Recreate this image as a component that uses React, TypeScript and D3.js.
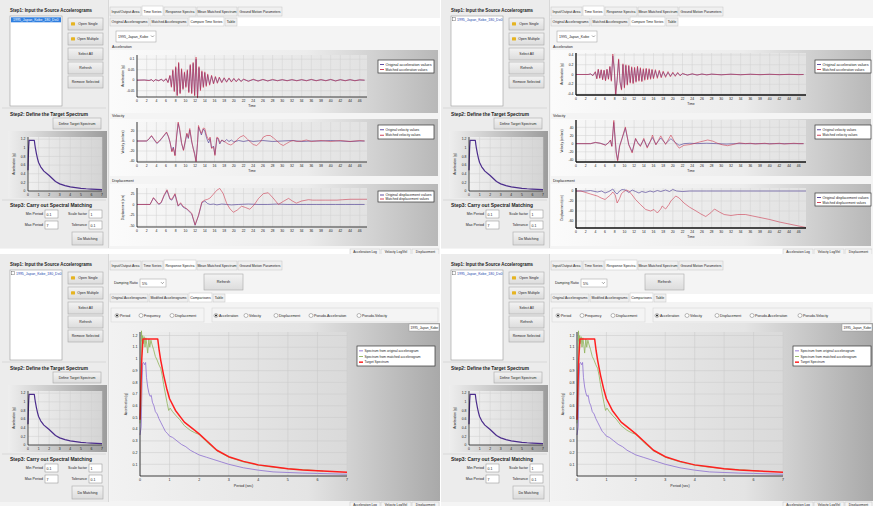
import React from 'react'
import * as d3 from 'd3'

type Pt = [number, number]

const FONT = 'Liberation Sans, Arial, sans-serif'

// tick labels
const timeTicks = [0, 2, 4, 6, 8, 10, 12, 14, 16, 18, 20, 22, 24, 26, 28, 30, 32, 34, 36, 38, 40, 42, 44, 46]
const periodTicks = [0, 1, 2, 3, 4, 5, 6, 7]
const saTicks = [0.1, 0.2, 0.3, 0.4, 0.5, 0.6, 0.7, 0.8, 0.9, 1, 1.1, 1.2]
const miniSaTicks = [0, 0.2, 0.4, 0.6, 0.8, 1, 1.2]

// ui labels
const mainTabs = ['Input/Output Area', 'Time Series', 'Response Spectra', 'Mean Matched Spectrum', 'Ground Motion Parameters']
const mainTabW = [31, 21, 32, 40, 44]
const tsSubTabs = ['Original Accelerograms', 'Matched Accelerograms', 'Compare Time Series', 'Table']
const tsSubTabW = [39, 38, 35, 12]
const rsSubTabs = ['Original Accelerograms', 'Modified Accelerograms', 'Comparisons', 'Table']
const rsSubTabW = [38, 39, 23, 12]
const sideButtons = ['Open Single', 'Open Multiple', 'Select All', 'Refresh', 'Remove Selected']
const xAxisOpts = ['Period', 'Frequency', 'Displacement']
const xAxisOptX = [117, 141, 172]
const yAxisOpts = ['Acceleration', 'Velocity', 'Displacement', 'Pseudo-Acceleration', 'Pseudo-Velocity']
const yAxisOptX = [216, 246, 276, 311, 359]
const logTabs = ['Acceleration Log', 'Velocity Log/Vel', 'Displacement']
const spectraLegend = ['Spectrum from original accelerogram', 'Spectrum from matched accelerogram', 'Target Spectrum']
const recordName = '1995_Japan_Kobe_180_Dx0'

// target spectrum (g) vs period (s)
const targetPeriod = [0, 0.03, 0.06, 0.1, 0.6, 0.65, 0.7, 0.8, 0.9, 1.0, 1.2, 1.5, 1.8, 2.0, 2.3, 2.6, 3.0, 3.5, 4.0, 4.5, 5.0, 5.5, 6.0, 6.5, 7.0]
const targetSa = [0.48, 0.75, 1.0, 1.17, 1.17, 1.07, 0.99, 0.86, 0.75, 0.66, 0.56, 0.46, 0.4, 0.36, 0.29, 0.22, 0.165, 0.125, 0.095, 0.078, 0.062, 0.052, 0.045, 0.038, 0.032]

// spectrum of the original record
const origPeriod = [0, 0.04, 0.07, 0.09, 0.12, 0.16, 0.19, 0.22, 0.26, 0.3, 0.34, 0.38, 0.42, 0.47, 0.52, 0.58, 0.64, 0.7, 0.78, 0.86, 0.94, 1.0, 1.1, 1.25, 1.4, 1.55, 1.7, 1.85, 2.0, 2.25, 2.5, 2.75, 3.0, 3.5, 4.0, 4.5, 5.0, 5.5, 6.0, 7.0]
const origSa = [0.35, 0.42, 0.8, 0.96, 0.97, 0.95, 0.97, 0.84, 0.76, 0.71, 0.68, 0.69, 0.63, 0.6, 0.55, 0.53, 0.49, 0.46, 0.42, 0.38, 0.36, 0.34, 0.33, 0.3, 0.27, 0.25, 0.22, 0.2, 0.18, 0.16, 0.14, 0.12, 0.1, 0.07, 0.05, 0.035, 0.03, 0.025, 0.022, 0.015]

// spectrum of the matched record
const matchPeriod = [0, 0.03, 0.05, 0.07, 0.09, 0.11, 0.14, 0.17, 0.2, 0.23, 0.26, 0.3, 0.33, 0.37, 0.41, 0.46, 0.52, 0.58, 0.64, 0.7, 0.75, 0.8, 0.86, 0.92, 0.97, 1.02, 1.1, 1.2, 1.35, 1.5, 1.7, 1.85, 2.0, 2.3, 2.6, 3.0, 3.5, 4.0, 4.5, 5.0, 5.5, 6.2]
const matchSa = [0.45, 0.6, 1.24, 1.15, 1.2, 1.13, 1.19, 1.1, 1.18, 1.12, 1.05, 1.17, 1.1, 1.16, 1.12, 1.08, 1.02, 0.99, 0.95, 0.92, 0.86, 0.78, 0.7, 0.62, 0.56, 0.58, 0.55, 0.52, 0.48, 0.43, 0.39, 0.37, 0.355, 0.28, 0.215, 0.16, 0.12, 0.092, 0.075, 0.062, 0.055, 0.042]

// ---- top-left record: [time (s), value]
const tlAccOrig: Pt[] = [[0, 0], [1.5, 0.001], [2.5, -0.001], [3, 0.002], [3.4, -0.005], [3.8, 0.002], [4.5, -0.002], [5, 0.004], [5.5, -0.004], [6, 0.006], [6.4, -0.01], [6.8, 0.02], [7.1, -0.03], [7.4, 0.045], [7.7, -0.05], [8, 0.06], [8.3, -0.07], [8.6, 0.08], [8.9, -0.06], [9.2, 0.05], [9.5, -0.04], [9.8, 0.035], [10.1, -0.03], [10.4, 0.045], [10.7, -0.055], [11, 0.07], [11.3, -0.06], [11.6, 0.08], [11.9, -0.07], [12.2, 0.1], [12.5, -0.08], [12.8, 0.06], [13.1, -0.045], [13.4, 0.04], [13.7, -0.03], [14, 0.035], [14.3, -0.025], [14.6, 0.025], [15, -0.02], [15.4, 0.02], [15.8, -0.015], [16.2, 0.015], [16.6, -0.012], [17, 0.012], [17.5, -0.01], [18, 0.01], [18.5, -0.008], [19, 0.009], [19.5, -0.007], [20, 0.007], [20.5, -0.006], [21, 0.006], [21.5, -0.005], [22, 0.004], [23, -0.004], [24, 0.003], [25, -0.003], [26, 0.003], [27, -0.003], [28, 0.002], [29, -0.002], [30, 0.002], [31, -0.002], [32, 0.002], [33, -0.002], [34, 0.002], [35, -0.002], [36, 0.003], [37, -0.002], [38, 0.002], [39, -0.002], [40, 0.003], [41, -0.003], [42, 0.002], [43, -0.002], [44, 0.002], [45, -0.002], [46, 0.001], [47, 0]]
const tlAccMatch: Pt[] = [[0, 0], [1.5, 0.001], [2.5, -0.002], [3, 0.003], [3.4, -0.006], [3.8, 0.003], [4.5, -0.003], [5, 0.005], [5.5, -0.005], [6, 0.008], [6.4, -0.012], [6.8, 0.024], [7.1, -0.034], [7.4, 0.05], [7.7, -0.055], [8, 0.065], [8.3, -0.075], [8.6, 0.085], [8.9, -0.065], [9.2, 0.055], [9.5, -0.045], [9.8, 0.04], [10.1, -0.035], [10.4, 0.05], [10.7, -0.06], [11, 0.075], [11.3, -0.065], [11.6, 0.085], [11.9, -0.075], [12.2, 0.11], [12.5, -0.085], [12.8, 0.065], [13.1, -0.05], [13.4, 0.045], [13.7, -0.035], [14, 0.04], [14.3, -0.03], [14.6, 0.03], [15, -0.024], [15.4, 0.024], [15.8, -0.018], [16.2, 0.018], [16.6, -0.015], [17, 0.015], [17.5, -0.012], [18, 0.012], [18.5, -0.01], [19, 0.011], [19.5, -0.009], [20, 0.009], [20.5, -0.008], [21, 0.008], [21.5, -0.007], [22, 0.006], [23, -0.006], [24, 0.005], [25, -0.005], [26, 0.004], [27, -0.004], [28, 0.004], [29, -0.003], [30, 0.003], [31, -0.003], [32, 0.003], [33, -0.003], [34, 0.003], [35, -0.003], [36, 0.004], [37, -0.003], [38, 0.003], [39, -0.003], [40, 0.004], [41, -0.004], [42, 0.003], [43, -0.003], [44, 0.003], [45, -0.003], [46, 0.002], [47, 0]]
const tlVelOrig: Pt[] = [[0, 0], [2, 0], [2.5, 4], [3, 10], [3.5, 3], [4.1, -5], [4.6, -1], [5.2, 6], [6.1, 17], [6.5, 8], [6.8, -2], [7.2, -20], [7.5, -12], [7.85, -28], [8.2, 10], [8.5, 35], [8.8, 22], [9.2, -5], [9.6, -18], [10, 0], [10.3, 14], [10.6, 5], [10.9, 22], [11.3, -2], [11.6, -14], [11.9, -25], [12.2, -40], [12.5, -5], [12.7, 28], [13, 20], [13.3, 12], [13.7, 24], [14, 20], [14.4, 5], [14.8, -4], [15.1, 5], [15.4, -14], [15.8, -10], [16.1, -27], [16.5, 6], [16.8, 3], [17.1, -6], [17.5, 2], [18, -2], [18.5, 3], [19, -1], [19.5, 2], [20, -2], [21, 1], [22, -1], [23, 1], [24, -1], [25, 0], [26, 1], [28, -1], [30, 0], [32, 1], [34, -1], [36, 0], [38, 0], [40, 1], [42, 0], [44, -1], [46, 0], [47, 0]]
const tlVelMatch: Pt[] = [[0, 0], [2, 0], [2.5, 5], [3, 11], [3.5, 4], [4.1, -4], [4.6, 0], [5.2, 7], [6.1, 18], [6.5, 9], [6.8, -1], [7.2, -22], [7.5, -14], [7.85, -30], [8.2, 12], [8.5, 38], [8.8, 25], [9.2, -3], [9.6, -19], [10, 2], [10.3, 16], [10.6, 7], [10.9, 25], [11.3, 0], [11.6, -15], [11.9, -27], [12.2, -42], [12.5, -3], [12.7, 31], [13, 22], [13.3, 15], [13.7, 26], [14, 25], [14.4, 10], [14.8, 2], [15.1, 8], [15.4, -15], [15.8, -12], [16.1, -29], [16.5, 8], [16.8, 6], [17.1, -3], [17.6, 2], [18.2, -2], [18.8, -6], [19.4, -8], [20, -4], [20.6, 2], [21.3, 8], [22, 11], [22.7, 5], [23.4, -2], [24, -7], [24.7, -9], [25.4, -3], [26.1, 8], [26.8, 11], [27.5, 11], [28.2, 6], [28.9, 0], [29.6, -6], [30.2, -9], [30.9, -5], [31.6, -1], [32.3, 1], [33, -1], [34, 0], [35, 2], [36, -1], [37, 0], [38, 1], [39, 0], [40, -1], [41, 0], [42, 1], [43, 0], [44, -1], [45, 0], [46, 1], [47, 0]]
const tlDispOrig: Pt[] = [[0, 0], [2.7, 0], [3.4, 15], [4.5, 0], [5, 4], [5.6, 20], [6.2, 32], [6.8, 12], [7.2, 10], [7.85, 23], [8.5, -4], [9, 2], [9.5, -6], [10.3, -11], [11.3, -22], [12, -48], [12.7, -26], [13.4, 4], [14, 8], [14.6, 2], [15.1, 0], [15.8, 1], [16.5, -1], [17.5, 1], [18.5, 0], [19.5, -1], [21, 0], [23, 1], [25, 0], [27, 0], [29, 1], [31, 0], [33, 0], [35, 0], [37, 0], [39, 0], [41, 0], [43, 0], [45, 0], [47, 0]]
const tlDispMatch: Pt[] = [[0, 0], [2.7, 0], [3.4, 16], [4.5, 1], [5, 5], [5.6, 22], [6.2, 34], [6.8, 14], [7.2, 12], [7.85, 25], [8.5, -3], [9, 4], [9.5, -4], [10.3, -10], [11.3, -20], [12, -47], [12.7, -25], [13.4, 6], [14, 10], [14.6, 12], [15.1, 15], [15.8, 24], [16.5, 33], [17.1, 37], [17.8, 25], [18.5, 3], [19.2, -10], [19.9, -18], [20.7, -13], [21.6, -4], [22.4, -7], [23.3, -11], [24.2, -1], [25.1, 14], [26.1, 25], [27.1, 27], [28.1, 15], [29.2, 0], [30.2, 7], [31.3, 14], [32.1, 8], [32.9, 3], [34, 8], [35.4, 11], [36.3, 10], [37.1, 10], [39, 10], [41.3, 10], [42.5, 11], [44, 12], [46, 12], [47.5, 12]]

// ---- top-right record
const trAccOrig: Pt[] = [[0, 0], [2.5, 0], [3, 0.01], [3.5, -0.02], [4, 0.05], [4.3, -0.08], [4.6, 0.1], [4.9, -0.07], [5.2, 0.09], [5.5, -0.1], [5.8, 0.08], [6.1, -0.12], [6.4, 0.1], [6.7, -0.09], [7, 0.15], [7.3, -0.12], [7.6, 0.38], [7.9, 0.1], [8.2, -0.4], [8.5, -0.1], [8.8, 0.3], [9.1, -0.15], [9.4, -0.3], [9.7, 0.2], [10, -0.26], [10.3, 0.18], [10.6, -0.2], [10.9, 0.17], [11.2, -0.16], [11.5, 0.14], [11.8, -0.17], [12.1, 0.13], [12.4, -0.14], [12.7, 0.15], [13, -0.12], [13.3, 0.12], [13.6, -0.13], [13.9, 0.1], [14.2, -0.1], [14.5, 0.11], [14.8, -0.09], [15.1, 0.1], [15.4, -0.08], [15.7, 0.09], [16, -0.07], [16.4, 0.08], [16.8, -0.06], [17.2, 0.07], [17.6, -0.05], [18, 0.05], [18.5, -0.04], [19, 0.04], [19.5, -0.03], [20, 0.03], [20.5, -0.025], [21, 0.03], [21.5, -0.02], [22, 0.015], [23, -0.01], [24, 0.01], [25, -0.01], [26, 0.008], [27, -0.006], [28, 0.006], [30, -0.005], [32, 0.005], [34, -0.004], [36, 0.004], [38, -0.003], [40, 0.003], [42, -0.003], [44, 0.002], [46, -0.002], [47, 0]]
const trAccMatch: Pt[] = [[0, 0], [2.5, 0], [3, 0.012], [3.5, -0.025], [4, 0.06], [4.3, -0.09], [4.6, 0.11], [4.9, -0.08], [5.2, 0.1], [5.5, -0.11], [5.8, 0.09], [6.1, -0.13], [6.4, 0.11], [6.7, -0.1], [7, 0.17], [7.3, -0.14], [7.6, 0.42], [7.9, 0.12], [8.2, -0.42], [8.5, -0.12], [8.8, 0.32], [9.1, -0.17], [9.4, -0.32], [9.7, 0.22], [10, -0.28], [10.3, 0.2], [10.6, -0.22], [10.9, 0.19], [11.2, -0.18], [11.5, 0.16], [11.8, -0.19], [12.1, 0.15], [12.4, -0.16], [12.7, 0.17], [13, -0.14], [13.3, 0.14], [13.6, -0.15], [13.9, 0.12], [14.2, -0.12], [14.5, 0.13], [14.8, -0.11], [15.1, 0.12], [15.4, -0.1], [15.7, 0.11], [16, -0.09], [16.4, 0.1], [16.8, -0.08], [17.2, 0.09], [17.6, -0.07], [18, 0.07], [18.5, -0.06], [19, 0.06], [19.5, -0.05], [20, 0.05], [20.5, -0.04], [21, 0.045], [21.5, -0.03], [22, 0.025], [23, -0.015], [24, 0.015], [25, -0.012], [26, 0.01], [27, -0.008], [28, 0.008], [30, -0.007], [32, 0.006], [34, -0.006], [36, 0.005], [38, -0.004], [40, 0.004], [42, -0.004], [44, 0.003], [46, -0.003], [47, 0]]
const trVelOrig: Pt[] = [[0, 0], [3, 0], [4, 3], [5, 1], [6.1, -3], [6.7, 2], [7.1, 8], [7.4, -6], [7.8, 52], [8.3, -20], [8.6, -40], [9, -5], [9.5, 12], [10.2, 38], [10.9, -2], [11.6, -20], [12.3, 12], [12.8, 2], [13.3, -5], [14, 10], [14.7, -8], [15.3, 5], [15.8, 15], [16.5, -2], [17.5, 14], [18.5, 0], [19.6, 12], [20.6, 2], [21.3, -4], [22.3, 0], [23.5, 1], [25, 0], [27, 1], [29, 0], [31, -1], [33, 0], [35, 0], [37, 0], [40, 0], [43, 0], [47, 0]]
const trVelMatch: Pt[] = [[0, 0], [3, 0], [4, 3], [5, 1], [6.1, -4], [6.7, 2], [7.1, 9], [7.4, -7], [7.8, 57], [8.3, -23], [8.6, -43], [9, -8], [9.5, 13], [10.2, 41], [10.9, -3], [11.6, -23], [12.3, 13], [12.8, 0], [13.3, -7], [14, 13], [14.7, -11], [15.3, 4], [15.8, 21], [16.5, -3], [17, 8], [17.5, 19], [18.5, -2], [19.6, 21], [20.6, 0], [21.3, -11], [22.3, -4], [23.7, -2], [25.5, 4], [27.2, 9], [28.3, 6], [29.2, 1], [30.3, -3], [31.3, -5], [32.5, -2], [33.7, 2], [35, 0], [36, 1], [37, -1], [38, 0], [39, 1], [40, -1], [41, 0], [42, 1], [43, -1], [44, 0], [45, 1], [46, 0], [47, 0]]
const trDispOrig: Pt[] = [[0, 0], [2, 0], [3, 1], [4.4, -2], [5.3, 0], [6, -4], [6.8, -1], [7.6, 4], [8.1, -3], [8.5, -6], [9, 0], [9.5, 3], [10.2, 2], [10.9, -3], [11.6, 2], [12.3, -1], [13, -4], [13.6, -1], [14.4, -3], [15.3, 0], [16, -2], [16.8, 1], [17.5, -1], [18.5, 2], [19.3, -1], [20, 3], [20.8, 0], [22, -1], [23.5, 0], [25, 0], [27, 0], [30, 0], [33, 0], [36, 0], [40, 0], [44, 0], [47.5, 0]]
const trDispMatch: Pt[] = [[0, 0], [1, 0], [2, -3], [3, -6], [4.4, -10], [5.2, -14], [6, -17], [6.6, -12], [7.1, -8], [7.6, -2], [8.1, -8], [8.5, -24], [9, -15], [9.4, -5], [9.9, -1], [10.4, 2], [10.9, 0], [11.6, -8], [12.3, -17], [13.3, -27], [14.4, -37], [15.4, -40], [16.1, -37], [16.8, -44], [17.5, -36], [17.8, -30], [18.5, -36], [19.2, -27], [19.6, -20], [20.6, -10], [21.3, -14], [22.3, -24], [23.4, -32], [24.8, -40], [25.8, -46], [26.8, -51], [27.9, -43], [28.6, -36], [29.6, -42], [30.6, -47], [32, -49], [33.4, -47], [35, -47], [36.5, -50], [38, -53], [40, -57], [42, -62], [44, -66], [46, -70], [47.5, -73]]

const ORIG = '#4e3d96'
const MATCH = '#cc3048'

const zip = (a: number[], b: number[]): Pt[] => a.map((v, i) => [v, b[i]])

// squeeze text only when it would overflow its slot
function T ({ x, y, s = 4, children, anchor = 'start', bold = false, fill = '#222', fit, rotate }: any) {
  const est = String(children).length * s * (bold ? 0.56 : 0.5)
  const squeeze = fit && est > fit
  return (
    <text
      x={x} y={y} fontSize={s} fontFamily={FONT} textAnchor={anchor}
      fontWeight={bold ? 'bold' : 'normal'} fill={fill}
      textLength={squeeze ? fit : undefined} lengthAdjust={squeeze ? 'spacingAndGlyphs' : undefined}
      transform={rotate ? `rotate(${rotate} ${x} ${y})` : undefined}
    >{children}</text>
  )
}

function Btn ({ x, y, w, h, label, icon = false, s = 3.8 }: any) {
  return (
    <g>
      <rect x={x} y={y} width={w} height={h} fill='url(#btnBg)' stroke='#a8a8a8' strokeWidth={0.6} />
      {icon && <rect x={x + 3} y={y + h / 2 - 1.8} width={4} height={3.4} rx={0.6} fill='#e6b422' />}
      <T x={x + w / 2 + (icon ? 2.5 : 0)} y={y + h / 2 + 1.4} s={s} anchor='middle' fit={w - (icon ? 10 : 4)}>{label}</T>
    </g>
  )
}

function Tabs ({ x, y, h, labels, widths, sel, endX }: any) {
  let cx = x
  return (
    <g>
      {endX && <rect x={x} y={y} width={endX - x} height={h} fill='#fff' />}
      {labels.map((label: string, i: number) => {
        const tx = cx
        cx += widths[i] + 1
        return (
          <g key={i}>
            <rect x={tx} y={y - (i === sel ? 1 : 0)} width={widths[i]} height={h + (i === sel ? 1 : 0)}
              fill={i === sel ? '#fff' : '#f0f0f0'} stroke='#c4c4c4' strokeWidth={0.5} />
            <T x={tx + widths[i] / 2} y={y + h / 2 + 1.3} s={3.5} anchor='middle' fit={widths[i] - 3}>{label}</T>
          </g>
        )
      })}
    </g>
  )
}

function Plot ({ px, py, pw, ph, xd, yd, xt, yt, lines, fs = 3.6, xTitle, yTitle, bg = 'url(#plotBg)', axisW = 0.8, grid = '#d0d0d0' }: any) {
  const xs = d3.scaleLinear().domain(xd).range([px, px + pw])
  const ys = d3.scaleLinear().domain(yd).range([py + ph, py])
  const line = d3.line<Pt>().x(d => xs(d[0])).y(d => ys(d[1]))
  return (
    <g>
      <rect x={px} y={py} width={pw} height={ph} fill={bg} />
      {xt.map((t: number) => (
        <line key={'gx' + t} x1={xs(t)} x2={xs(t)} y1={py} y2={py + ph} stroke={grid} strokeWidth={0.5} />
      ))}
      {yt.map((t: number) => (
        <line key={'gy' + t} x1={px} x2={px + pw} y1={ys(t)} y2={ys(t)} stroke={grid} strokeWidth={0.5} />
      ))}
      {lines.map((l: any, i: number) => (
        <path key={i} d={line(l.data) || ''} fill='none' stroke={l.color} strokeWidth={l.w}
          strokeOpacity={l.op ?? 1} strokeLinejoin='round' />
      ))}
      <line x1={px} x2={px} y1={py} y2={py + ph} stroke='#111' strokeWidth={axisW} />
      <line x1={px} x2={px + pw} y1={py + ph} y2={py + ph} stroke='#111' strokeWidth={axisW} />
      {xt.map((t: number) => (
        <T key={'xl' + t} x={xs(t)} y={py + ph + fs + 1.8} s={fs} anchor='middle'>{String(t)}</T>
      ))}
      {yt.map((t: number) => (
        <T key={'yl' + t} x={px - 2.5} y={ys(t) + fs * 0.35} s={fs} anchor='end'>{String(t)}</T>
      ))}
      {xTitle && <T x={px + pw / 2} y={py + ph + fs * 2 + 3.5} s={fs} anchor='middle'>{xTitle}</T>}
      {yTitle && <T x={px - 13} y={py + ph / 2} s={fs * 0.9} anchor='middle' rotate={-90}>{yTitle}</T>}
    </g>
  )
}

function Legend ({ x, y, w, h, items, s = 3.3 }: any) {
  const step = (h - 3) / items.length
  return (
    <g>
      <rect x={x} y={y} width={w} height={h} fill='#fff' stroke='#333' strokeWidth={0.7} />
      {items.map((it: any, i: number) => (
        <g key={i}>
          <line x1={x + 2} x2={x + 6} y1={y + 2 + step * (i + 0.5)} y2={y + 2 + step * (i + 0.5)} stroke={it.color} strokeWidth={it.w || 0.9} />
          <T x={x + 7.5} y={y + 2 + step * (i + 0.5) + 1.2} s={s} fit={w - 10}>{it.label}</T>
        </g>
      ))}
    </g>
  )
}

function Sidebar ({ sel }: any) {
  const btnY = [18, 33, 48, 62, 76]
  const target = zip(targetPeriod, targetSa)
  return (
    <g>
      <rect x={0} y={0} width={108} height={248} fill='#ececec' />
      <T x={10} y={12} s={4.6} bold fit={82}>Step1: Input the Source Accelerograms</T>
      <rect x={10} y={16} width={52} height={90} fill='#fff' stroke='#9a9a9a' strokeWidth={0.6} />
      {sel
        ? (<g>
            <rect x={11} y={17.3} width={50} height={5} fill='#2f7fe0' />
            <T x={13} y={21} s={3.5} fill='#fff' fit={46}>{recordName}</T>
          </g>)
        : (<g>
            <rect x={11.5} y={17.6} width={3.2} height={3.2} fill='#fff' stroke='#555' strokeWidth={0.4} />
            <T x={16} y={21} s={3.5} fill='#1b3fae' fit={44}>{recordName}</T>
          </g>)}
      {sideButtons.map((b, i) => (
        <Btn key={b} x={68} y={btnY[i]} w={35} h={12} label={b} icon={i < 2} s={3.5} />
      ))}
      <line x1={2} x2={106} y1={108} y2={108} stroke='#d4d4d4' strokeWidth={0.8} />
      <T x={10} y={116} s={4.6} bold fit={78}>Step2: Define the Target Spectrum</T>
      <Btn x={53} y={118} w={48} h={11} label='Define Target Spectrum' s={3.5} />
      <rect x={8} y={131} width={99} height={67} fill='url(#miniBg)' />
      <Plot px={28} py={137} pw={74} ph={54} xd={[0, 7]} yd={[0, 1.25]} xt={periodTicks} yt={miniSaTicks}
        lines={[{ data: target, color: '#4b2c8c', w: 1.2 }]} fs={3.4} yTitle='Acceleration (g)'
        bg='url(#miniPlot)' grid='#cfcfcf' axisW={0.7} />
      <line x1={2} x2={106} y1={200} y2={200} stroke='#d4d4d4' strokeWidth={0.8} />
      <T x={10} y={207} s={4.6} bold fit={82}>Step3: Carry out Spectral Matching</T>
      <T x={43} y={215} s={3.6} anchor='end'>Min Period</T>
      <rect x={45} y={210} width={13} height={8} fill='#fff' stroke='#8a8a8a' strokeWidth={0.5} />
      <T x={46.5} y={215.5} s={3.5}>0.1</T>
      <T x={87} y={215} s={3.6} anchor='end'>Scale factor</T>
      <rect x={89} y={210} width={13} height={8} fill='#fff' stroke='#8a8a8a' strokeWidth={0.5} />
      <T x={90.5} y={215.5} s={3.5}>1</T>
      <T x={43} y={226} s={3.6} anchor='end'>Max Period</T>
      <rect x={45} y={221} width={13} height={8} fill='#fff' stroke='#8a8a8a' strokeWidth={0.5} />
      <T x={46.5} y={226.5} s={3.5}>7</T>
      <T x={87} y={226} s={3.6} anchor='end'>Tolerance</T>
      <rect x={89} y={221} width={13} height={8} fill='#fff' stroke='#8a8a8a' strokeWidth={0.5} />
      <T x={90.5} y={226.5} s={3.5}>0.1</T>
      <Btn x={72} y={232} w={31} h={13} label='Do Matching' s={3.6} />
    </g>
  )
}

function LogTabs ({ w, y }: any) {
  const tw = [30, 30, 27]
  let x = w - 90
  return (
    <g>
      {logTabs.map((l, i) => {
        const tx = x
        x += tw[i] + 1
        return (
          <g key={l}>
            <rect x={tx} y={y} width={tw[i]} height={6} fill='#f4f4f4' stroke='#bbb' strokeWidth={0.4} />
            <T x={tx + tw[i] / 2} y={y + 4.3} s={3.2} anchor='middle' fit={tw[i] - 4}>{l}</T>
          </g>
        )
      })}
    </g>
  )
}

function TimeSeriesPanel ({ ox, w, sel, charts, plotX, legendX }: any) {
  return (
    <g transform={`translate(${ox},0)`}>
      <rect x={0} y={0} width={w} height={249} fill='#f4f4f4' />
      <Sidebar sel={sel} />
      <line x1={108.5} x2={108.5} y1={0} y2={248} stroke='#d0d0d0' strokeWidth={0.8} />
      <Tabs x={110} y={7} h={9} labels={mainTabs} widths={mainTabW} sel={1} />
      <Tabs x={110} y={18} h={8} labels={tsSubTabs} widths={tsSubTabW} sel={2} endX={w} />
      <rect x={116} y={31} width={40} height={11} fill='#fff' stroke='#9a9a9a' strokeWidth={0.5} />
      <T x={118} y={38} s={3.6} fit={30}>1995_Japan_Kobe</T>
      <path d='M151,35.5 l1.5,1.5 l1.5,-1.5' fill='none' stroke='#444' strokeWidth={0.5} />
      {charts.map((c: any) => (
        <g key={c.label}>
          <T x={112} y={c.top - 2} s={3.6}>{c.label}</T>
          <rect x={110} y={c.top} width={w - 112} height={c.h} fill='url(#boxBg)' />
          <Plot px={plotX} py={c.py} pw={230} ph={c.ph} xd={[0, 47.5]} yd={c.yd} xt={timeTicks} yt={c.yt}
            fs={3.4} xTitle={c.showTitle ? 'Time' : undefined} yTitle={c.yTitle} axisW={c.axisW}
            lines={[{ data: c.orig, color: ORIG, w: 0.7, op: 0.9 }, { data: c.match, color: MATCH, w: 0.7, op: 0.8 }]} />
          <Legend x={legendX} y={c.ly} w={56} h={c.lh} items={[
            { label: c.leg[0], color: ORIG }, { label: c.leg[1], color: MATCH }]} />
        </g>
      ))}
      <LogTabs w={w} y={249} />
    </g>
  )
}

function SpectraPanel ({ ox, w, plotX, plotW, legendX }: any) {
  const orig = zip(origPeriod, origSa)
  const match = zip(matchPeriod, matchSa)
  const target = zip(targetPeriod, targetSa)
  return (
    <g transform={`translate(${ox},254)`}>
      <rect x={0} y={0} width={w} height={252} fill='#f4f4f4' />
      <Sidebar sel={false} />
      <line x1={108.5} x2={108.5} y1={0} y2={248} stroke='#d0d0d0' strokeWidth={0.8} />
      <Tabs x={110} y={7} h={9} labels={mainTabs} widths={mainTabW} sel={2} />
      <T x={114} y={30} s={3.6}>Damping Ratio</T>
      <rect x={140} y={25} width={26} height={8} fill='#fff' stroke='#9a9a9a' strokeWidth={0.5} />
      <T x={142} y={31} s={3.6}>5%</T>
      <path d='M161,28.2 l1.4,1.4 l1.4,-1.4' fill='none' stroke='#444' strokeWidth={0.5} />
      <Btn x={204} y={20} w={39} h={16} label='Refresh' s={3.8} />
      <Tabs x={110} y={40} h={8} labels={rsSubTabs} widths={rsSubTabW} sel={2} endX={w} />
      <rect x={111} y={54} width={93} height={14} fill='#f4f4f4' stroke='#d0d0d0' strokeWidth={0.5} />
      <rect x={212} y={54} width={w - 214} height={14} fill='#f4f4f4' stroke='#d0d0d0' strokeWidth={0.5} />
      {xAxisOpts.map((o, i) => (
        <g key={'xo' + o}>
          <circle cx={xAxisOptX[i]} cy={61.5} r={2} fill='#fff' stroke='#555' strokeWidth={0.4} />
          {i === 0 && <circle cx={xAxisOptX[i]} cy={61.5} r={1} fill='#222' />}
          <T x={xAxisOptX[i] + 3} y={63} s={3.5}>{o}</T>
        </g>
      ))}
      {yAxisOpts.map((o, i) => (
        <g key={'yo' + o}>
          <circle cx={yAxisOptX[i]} cy={61.5} r={2} fill='#fff' stroke='#555' strokeWidth={0.4} />
          {i === 0 && <circle cx={yAxisOptX[i]} cy={61.5} r={1} fill='#222' />}
          <T x={yAxisOptX[i] + 3} y={63} s={3.5}>{o}</T>
        </g>
      ))}
      <rect x={110} y={69} width={w - 110} height={178} fill='url(#specBg)' />
      <rect x={w - 31} y={70} width={30} height={7} fill='#fff' stroke='#888' strokeWidth={0.4} />
      <T x={w - 29.5} y={75} s={3.3} fit={27}>1995_Japan_Kobe</T>
      <Plot px={plotX} py={78} pw={plotW} ph={144} xd={[0, 7]} yd={[0, 1.23]} xt={periodTicks} yt={saTicks}
        fs={3.6} xTitle='Period (sec)' yTitle='Acceleration (g)' bg='url(#specPlot)' grid='#c8c8c8'
        lines={[
          { data: orig, color: '#8d6fd1', w: 0.8 },
          { data: match, color: '#8fb35a', w: 0.8 },
          { data: target, color: '#ff1f1f', w: 1.5 }
        ]} />
      <Legend x={legendX} y={92} w={78} h={20} s={3.3} items={[
        { label: spectraLegend[0], color: '#8d6fd1' },
        { label: spectraLegend[1], color: '#8fb35a' },
        { label: spectraLegend[2], color: '#ff1f1f', w: 1.5 }
      ]} />
      <LogTabs w={w} y={248} />
    </g>
  )
}

const tlCharts = [
  { label: 'Acceleration', top: 50, h: 63, py: 55, ph: 42, yd: [-0.08, 0.12], yt: [-0.05, 0, 0.05, 0.1], orig: tlAccOrig, match: tlAccMatch, yTitle: 'Acceleration (g)', leg: ['Original acceleration values', 'Matched acceleration values'], ly: 60, lh: 13, showTitle: true },
  { label: 'Velocity', top: 119, h: 57, py: 122, ph: 40, yd: [-42, 38], yt: [-40, -20, 0, 20], orig: tlVelOrig, match: tlVelMatch, yTitle: 'Velocity (cm/sec)', leg: ['Original velocity values', 'Matched velocity values'], ly: 125, lh: 14, showTitle: true },
  { label: 'Displacement', top: 184, h: 62, py: 188, ph: 39, yd: [-52, 38], yt: [-50, -25, 0, 25], orig: tlDispOrig, match: tlDispMatch, yTitle: 'Displacement (cm)', leg: ['Original displacement values', 'Matched displacement values'], ly: 191, lh: 11, showTitle: false }
]

const trCharts = [
  { label: 'Acceleration', top: 50, h: 63, py: 53, ph: 42, yd: [-0.42, 0.44], yt: [-0.4, -0.2, 0, 0.2, 0.4], orig: trAccOrig, match: trAccMatch, yTitle: 'Acceleration (g)', leg: ['Original acceleration values', 'Matched acceleration values'], ly: 60, lh: 13, showTitle: true, axisW: 1.3 },
  { label: 'Velocity', top: 119, h: 57, py: 120, ph: 42, yd: [-45, 58], yt: [-40, -20, 0, 20, 40], orig: trVelOrig, match: trVelMatch, yTitle: 'Velocity (cm/sec)', leg: ['Original velocity values', 'Matched velocity values'], ly: 125, lh: 14, showTitle: true, axisW: 1.3 },
  { label: 'Displacement', top: 184, h: 62, py: 188, ph: 40, yd: [-74, 6], yt: [-60, -40, -20, 0], orig: trDispOrig, match: trDispMatch, yTitle: 'Displacement (cm)', leg: ['Original displacement values', 'Matched displacement values'], ly: 193, lh: 13, showTitle: true, axisW: 1.3 }
]

export default function App () {
  return (
    <svg width={873} height={506} viewBox='0 0 873 506' style={{ position: 'fixed', left: 0, top: 0 }}>
      <defs>
        <linearGradient id='boxBg' x1='0' x2='1' y1='0' y2='0'>
          <stop offset='0' stopColor='#fbfbfb' />
          <stop offset='0.6' stopColor='#ececec' />
          <stop offset='1' stopColor='#b8b8b8' />
        </linearGradient>
        <linearGradient id='plotBg' x1='0' x2='1' y1='0' y2='0'>
          <stop offset='0' stopColor='#f7f7f7' />
          <stop offset='1' stopColor='#e2e2e2' />
        </linearGradient>
        <linearGradient id='specBg' x1='0' x2='1' y1='0' y2='0'>
          <stop offset='0' stopColor='#f2f2f2' />
          <stop offset='0.6' stopColor='#e4e4e4' />
          <stop offset='1' stopColor='#a9a9a9' />
        </linearGradient>
        <linearGradient id='specPlot' x1='0' x2='1' y1='0' y2='0'>
          <stop offset='0' stopColor='#eeeeee' />
          <stop offset='1' stopColor='#dadada' />
        </linearGradient>
        <linearGradient id='miniBg' x1='0' x2='1' y1='0' y2='0'>
          <stop offset='0' stopColor='#eeeeee' />
          <stop offset='1' stopColor='#9c9c9c' />
        </linearGradient>
        <linearGradient id='miniPlot' x1='0' x2='1' y1='0' y2='0'>
          <stop offset='0' stopColor='#f0f0f0' />
          <stop offset='1' stopColor='#d4d4d4' />
        </linearGradient>
        <linearGradient id='btnBg' x1='0' x2='0' y1='0' y2='1'>
          <stop offset='0' stopColor='#f3f3f3' />
          <stop offset='1' stopColor='#dcdcdc' />
        </linearGradient>
      </defs>
      <rect width={873} height={506} fill='#fff' />
      <TimeSeriesPanel ox={0} w={440} sel charts={tlCharts} plotX={137} legendX={378} />
      <TimeSeriesPanel ox={441} w={432} sel={false} charts={trCharts} plotX={135} legendX={374} />
      <SpectraPanel ox={0} w={440} plotX={140} plotW={207} legendX={357} />
      <SpectraPanel ox={441} w={432} plotX={136} plotW={206} legendX={352} />
    </svg>
  )
}
